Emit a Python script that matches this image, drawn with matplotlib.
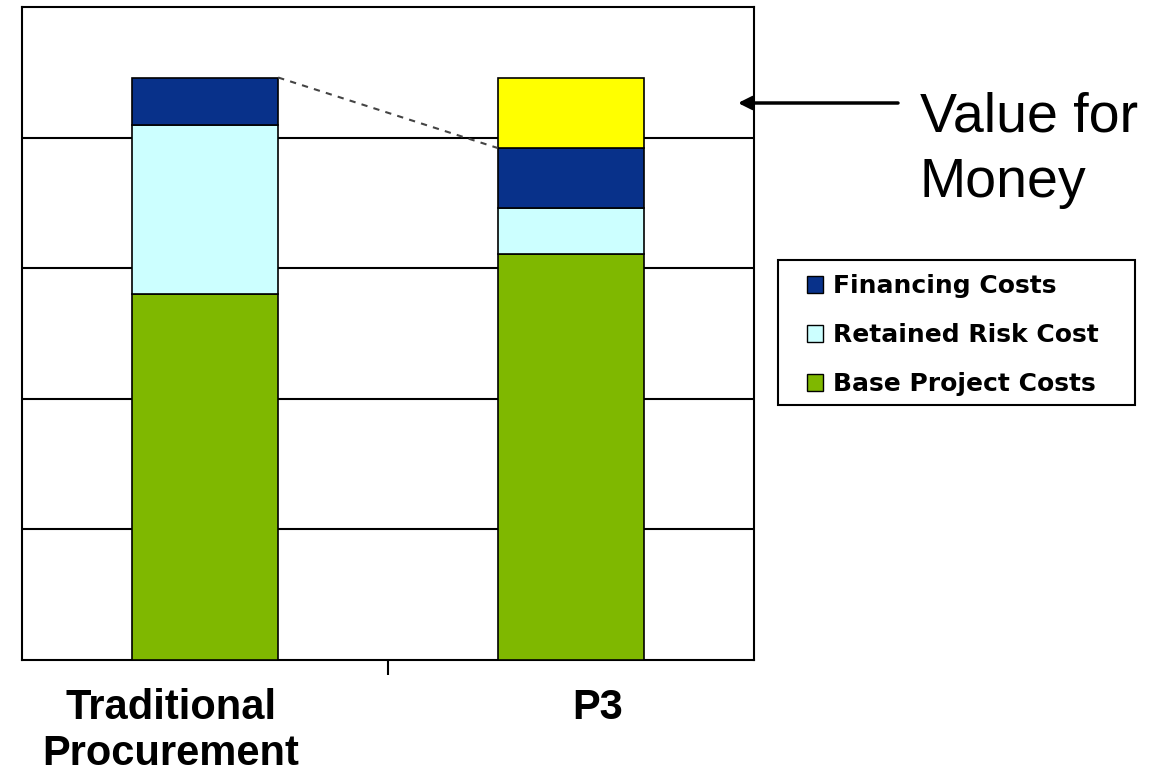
import matplotlib.pyplot as plt
from matplotlib.patches import Patch, Rectangle
from matplotlib.transforms import ScaledTranslation

# Data (arbitrary cost units, axis runs 0..5)
categories = ['Traditional\nProcurement', 'P3']
base_costs = [2.80, 3.11]
retained_risk = [1.30, 0.35]
financing = [0.36, 0.46]
value_for_money = [0.0, 0.54]

c_base = '#7FB800'
c_risk = '#CCFFFF'
c_fin = '#08318A'
c_vfm = '#FFFF00'

fig = plt.figure(figsize=(11.52, 7.72), dpi=100)
ax = fig.add_axes([22 / 1152, 1 - 660 / 772, 732 / 1152, 653 / 772])

x = [0, 1]
w = 0.4
bottom2 = [b + r for b, r in zip(base_costs, retained_risk)]
bottom3 = [b + f for b, f in zip(bottom2, financing)]

ax.bar(x, base_costs, width=w, color=c_base, edgecolor='black', linewidth=1.2, zorder=3)
ax.bar(x, retained_risk, width=w, bottom=base_costs, color=c_risk, edgecolor='black', linewidth=1.2, zorder=3)
ax.bar(x, financing, width=w, bottom=bottom2, color=c_fin, edgecolor='black', linewidth=1.2, zorder=3)
ax.bar([1], value_for_money[1:], width=w, bottom=bottom3[1:], color=c_vfm, edgecolor='black', linewidth=1.2, zorder=3)

# dashed line linking top of traditional to top of P3 financing
ax.plot([x[0] + w / 2, x[1] - w / 2], [bottom3[0], bottom3[1]], color='#444444',
        linestyle=(0, (3, 3)), linewidth=1.5, zorder=4)

ax.set_xlim(-0.5, 1.5)
ax.set_ylim(0, 5)
ax.set_yticks([1, 2, 3, 4])
ax.set_yticklabels([])
ax.tick_params(axis='y', length=0)
ax.yaxis.grid(True, color='black', linewidth=1.5)
ax.set_axisbelow(True)

ax.set_xticks(x)
ax.set_xticklabels(categories, fontfamily='Liberation Sans', fontweight='bold', fontsize=30,
                   linespacing=1.2)
ax.tick_params(axis='x', which='major', length=0, pad=20)
ax.set_xticks([0.5], minor=True)
ax.tick_params(axis='x', which='minor', length=11, width=1.5, direction='out')
for lab, dx in zip(ax.get_xticklabels(), [-0.34, 0.27]):
    lab.set_transform(lab.get_transform() + ScaledTranslation(dx, 0, fig.dpi_scale_trans))

for s in ax.spines.values():
    s.set_linewidth(1.5)
    s.set_color('black')

# legend: box drawn separately so its size matches the original
fig.patches.append(Rectangle((778 / 1152, 1 - 405 / 772), 357 / 1152, 145 / 772,
                             transform=fig.transFigure, facecolor='white',
                             edgecolor='black', linewidth=1.5, zorder=1))
handles = [Patch(facecolor=c_fin, edgecolor='black', label='Financing Costs'),
           Patch(facecolor=c_risk, edgecolor='black', label='Retained Risk Cost'),
           Patch(facecolor=c_base, edgecolor='black', label='Base Project Costs')]
leg = fig.legend(handles=handles, loc='upper left', bbox_to_anchor=(807 / 1152, 1 - 274 / 772),
                 prop={'family': 'DejaVu Sans', 'weight': 'bold', 'size': 18},
                 frameon=False, handlelength=0.65, handleheight=0.65, handletextpad=0.4,
                 labelspacing=1.0, borderpad=0, borderaxespad=0)

# arrow and annotation
fig.text(920 / 1152, 1 - 92 / 772, 'Value for\nMoney', fontfamily='Liberation Sans',
         fontsize=40, ha='left', va='top', linespacing=1.32)
ax.annotate('', xy=(738 / 1152, 1 - 103 / 772), xycoords='figure fraction',
            xytext=(898 / 1152, 1 - 103 / 772), textcoords='figure fraction',
            arrowprops=dict(arrowstyle='-|>', color='black', lw=2.5,
                            mutation_scale=20, shrinkA=0, shrinkB=0),
            annotation_clip=False)

plt.savefig('out.png', dpi=100)
